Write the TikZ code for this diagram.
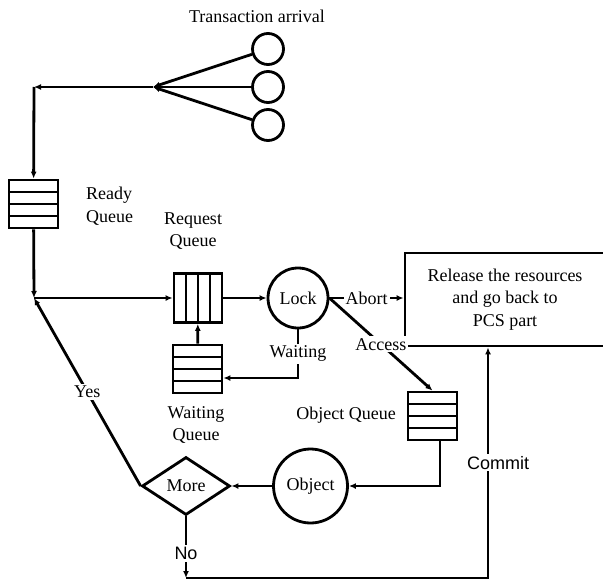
\documentclass[tikz,border=0pt]{standalone}
\usepackage{fontspec}
\setmainfont{Liberation Serif}
\newfontfamily\arialfont{Liberation Sans}
\usetikzlibrary{arrows.meta}
\usetikzlibrary{shapes.geometric}

\begin{document}
\begin{tikzpicture}[x=0.5pt,y=-0.5pt,line width=1.4pt,
		font=\fontsize{9}{11.3}\selectfont,
		arr/.style={-{Latex[length=3.5pt,width=3pt]}},
		lbl/.style={fill=white,inner sep=1pt},
		hqueue/.style={draw,inner sep=0,minimum width=24.5pt,minimum height=24pt,
			path picture={\foreach \k in {1,2,3}
				\draw ([yshift=-\k*6pt]path picture bounding box.north west) -- ([yshift=-\k*6pt]path picture bounding box.north east);}},
		vqueue/.style={draw,inner sep=0,minimum width=24pt,minimum height=24.5pt,
			path picture={\foreach \k in {1,2,3}
				\draw ([xshift=\k*6pt]path picture bounding box.north west) -- ([xshift=\k*6pt]path picture bounding box.south west);}},
		station/.style={draw,circle,inner sep=0}]
	\useasboundingbox (0,0) rectangle (603,583);
	% arrivals
	\node (tarr) at (257,16) {Transaction arrival};
	\foreach \j/\y in {1/49, 2/87, 3/125} {
		\node[station,minimum size=15.5pt] (t\j) at (268,\y) {};
	}
	\coordinate (j0) at (153,87);
	\coordinate (c0) at (34,87);
	\foreach \j in {1,2,3} {
		\draw[arr] (t\j) -- (j0);
	}
	% queues
	\node[hqueue] (rq) at (33.5,204) {};
	\node[anchor=west,align=left] (rqlbl) at (78,206) {Ready\\Queue};
	\node[vqueue] (qq) at (198,298) {};
	\node[align=center] (qqlbl) at (193,231) {Request\\Queue};
	\node[hqueue] (wq) at (197.5,369) {};
	\node[align=center] (wqlbl) at (196,425) {Waiting\\Queue};
	\node[hqueue] (oq) at (432.5,416) {};
	\node[anchor=east] (oqlbl) at (404,415) {Object Queue};
	% stations
	\node[station,minimum size=30pt] (lock) at (298,298) {Lock};
	\node[station,minimum size=37pt] (obj) at (310.5,486) {Object};
	\node[draw,diamond,inner sep=0,aspect=1.5,minimum width=44pt,minimum height=29pt] (more) at (186,486) {More};
	\node[draw,align=center,minimum width=100pt,minimum height=46.5pt] (rel) at (505,299.5) {Release the resources\\and go back to\\PCS part};
	\coordinate (j1) at (34,298);
	\coordinate (w1) at (298,378);
	\coordinate (c2) at (186,578);
	\coordinate (c3) at (488,578);
	\coordinate (c4) at (440,486);
	% connectors
	\draw[arr] (j0) -- (c0);
	\draw[arr] (c0) -- (rq);
	\draw[arr] (rq) -- (j1);
	\draw[arr] (j1) -- (qq);
	\draw[arr] (qq) -- (lock);
	\draw[arr] (lock) -- node[lbl] {Abort} (rel.west |- lock);
	\draw[arr] (lock.east) -- node[lbl] {Access} (oq.north);
	\draw[arr] (lock.south) -- node[lbl] {Waiting} (w1) -- (wq.east |- w1);
	\draw[arr] (wq) -- (qq);
	\draw[arr] (oq.south -| c4) -- (c4) -- (obj);
	\draw[arr] (obj) -- (more);
	\draw[arr] (more.west) -- node[lbl] {Yes} (j1);
	\draw[arr] (more.south) -- node[lbl,pos=0.6,font=\fontsize{9}{11}\arialfont] {No} (c2);
	\draw[arr] (c2) -- (c3) -- node[lbl,xshift=5pt,font=\fontsize{9}{11}\arialfont] {Commit} (c3 |- rel.south);
\end{tikzpicture}
\end{document}
